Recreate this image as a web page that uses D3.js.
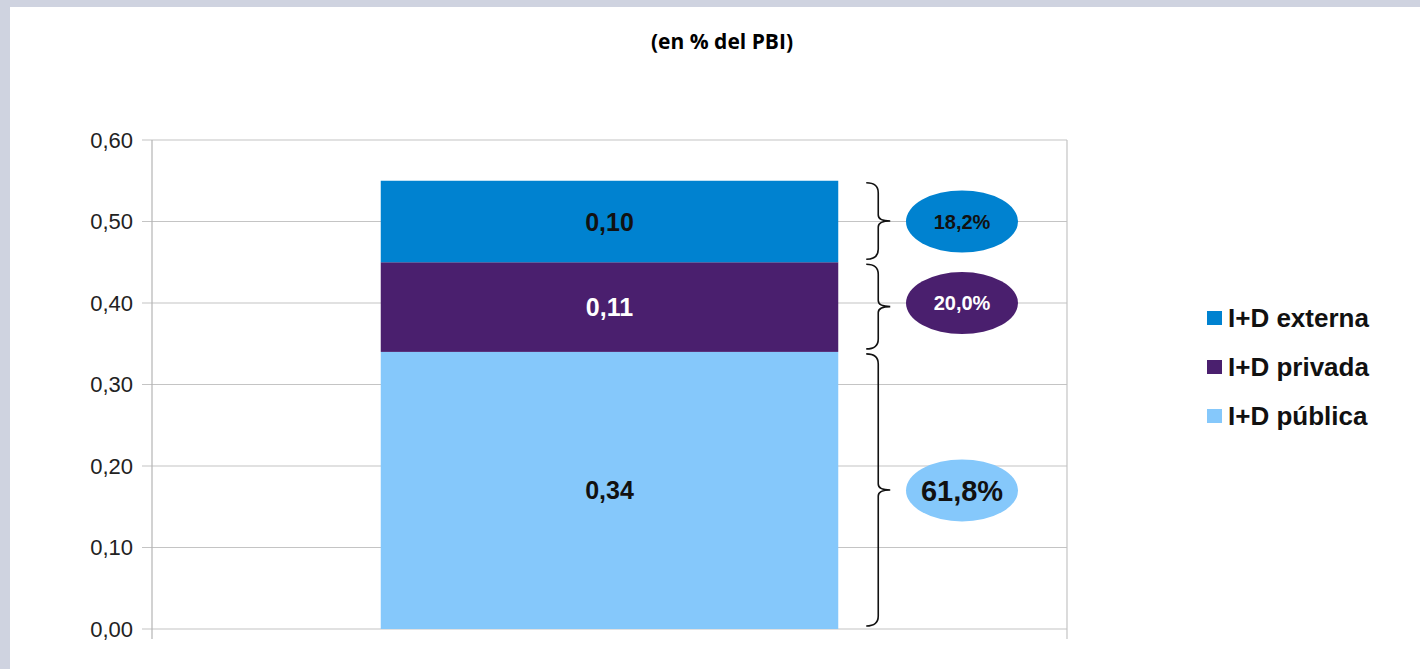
<!DOCTYPE html>
<html>
<head>
<meta charset="utf-8">
<script src="https://cdn.jsdelivr.net/npm/d3@7"></script>
<style>
  body { margin: 0; background: #cfd3e0; }
  svg { display: block; }
</style>
</head>
<body>
<svg id="chart" width="1420" height="669"></svg>
<script>
// data
const categories = ["I+D"];
const seriesNames = ["I+D pública", "I+D privada", "I+D externa"];
const seriesValues = [0.34, 0.11, 0.10];
const valueLabels = ["0,34", "0,11", "0,10"];
const shareLabels = ["61,8%", "20,0%", "18,2%"];
const yTicks = [0, 0.1, 0.2, 0.3, 0.4, 0.5, 0.6];

const colors = ["#85c8fb", "#4a1f6e", "#0082d0"];
const labelColors = ["#111", "#fff", "#111"];

const svg = d3.select("#chart");
const width = 1420, height = 669;
const margin = { left: 152, right: 353, top: 140, bottom: 39 };
const font = "Liberation Sans, Arial, sans-serif";

// white page panel
svg.append("rect").attr("x", 10).attr("y", 7).attr("width", width - 10).attr("height", height - 7).attr("fill", "#fff");

svg.append("text")
    .attr("x", 722).attr("y", 49)
    .attr("text-anchor", "middle")
    .attr("font-family", "Open Sans, sans-serif")
    .attr("font-size", 21).attr("font-weight", 700)
    .text("(en % del PBI)");

const x = d3.scaleBand()
    .domain(categories)
    .range([margin.left, width - margin.right])
    .paddingInner(0.5).paddingOuter(0.25);
const y = d3.scaleLinear()
    .domain([0, 0.6])
    .range([height - margin.bottom - 1, margin.top]);

// gridlines
svg.append("g").selectAll("line")
    .data(yTicks)
    .join("line")
    .attr("x1", margin.left - 10).attr("x2", width - margin.right)
    .attr("y1", d => y(d)).attr("y2", d => y(d))
    .attr("stroke", "#c4c4c4").attr("stroke-width", 1.2);

// axis lines
svg.append("line").attr("x1", margin.left).attr("x2", margin.left)
    .attr("y1", margin.top).attr("y2", y(0) + 10)
    .attr("stroke", "#b4b4b4").attr("stroke-width", 1.2);
svg.append("line").attr("x1", width - margin.right).attr("x2", width - margin.right)
    .attr("y1", margin.top).attr("y2", y(0) + 10)
    .attr("stroke", "#c4c4c4").attr("stroke-width", 1.2);

// tick labels
svg.append("g").selectAll("text")
    .data(yTicks)
    .join("text")
    .attr("x", margin.left - 19).attr("y", d => y(d))
    .attr("dy", "0.36em")
    .attr("text-anchor", "end")
    .attr("font-family", font)
    .attr("font-size", 22).attr("fill", "#222")
    .text(d => d.toFixed(2).replace(".", ","));

// stacked segments
const stacked = seriesValues.map((v, i) => {
    const y0 = d3.sum(seriesValues.slice(0, i));
    return { name: seriesNames[i], v, y0, y1: y0 + v, i };
});

svg.append("g").selectAll("rect")
    .data(stacked)
    .join("rect")
    .attr("x", x(categories[0]))
    .attr("width", x.bandwidth())
    .attr("y", d => y(d.y1))
    .attr("height", d => y(d.y0) - y(d.y1))
    .attr("fill", d => colors[d.i]);

svg.append("g").selectAll("text")
    .data(stacked)
    .join("text")
    .attr("x", x(categories[0]) + x.bandwidth() / 2)
    .attr("y", d => (y(d.y0) + y(d.y1)) / 2)
    .attr("dy", "0.36em")
    .attr("text-anchor", "middle")
    .attr("font-family", font)
    .attr("font-size", 25).attr("font-weight", 700)
    .attr("fill", d => labelColors[d.i])
    .text(d => valueLabels[d.i]);

// braces
function brace(x0, ya, yb, w) {
    const xm = x0 + w / 2, ym = (ya + yb) / 2, r = 10;
    return `M${x0},${ya} Q${xm},${ya} ${xm},${ya + r} L${xm},${ym - r + 4} ` +
        `Q${xm},${ym} ${x0 + w},${ym} Q${xm},${ym} ${xm},${ym + r - 4} ` +
        `L${xm},${yb - r} Q${xm},${yb} ${x0},${yb}`;
}
const braceX = x(categories[0]) + x.bandwidth() + 28;
svg.append("g").selectAll("path")
    .data(stacked)
    .join("path")
    .attr("d", d => brace(braceX, y(d.y1) + 2, y(d.y0) - 3, 24))
    .attr("fill", "none").attr("stroke", "#111").attr("stroke-width", 1.6);

// share ellipses
const ellX = 962;
const g = svg.append("g").selectAll("g")
    .data(stacked)
    .join("g")
    .attr("transform", d => `translate(${ellX},${(y(d.y0) + y(d.y1)) / 2 - (d.i === 1 ? 4 : 0)})`);
g.append("ellipse").attr("rx", 56).attr("ry", 31).attr("fill", d => colors[d.i]);
g.append("text")
    .attr("dy", "0.36em")
    .attr("text-anchor", "middle")
    .attr("font-family", font)
    .attr("font-weight", 700)
    .attr("font-size", d => d.i === 0 ? 29 : 20)
    .attr("fill", d => labelColors[d.i])
    .text(d => shareLabels[d.i]);

// legend (top to bottom: externa, privada, pública)
const legend = svg.append("g").selectAll("g")
    .data(stacked.slice().reverse())
    .join("g")
    .attr("transform", (d, k) => `translate(1207,${318 + k * 49})`);
legend.append("rect").attr("x", 0).attr("y", -7).attr("width", 15).attr("height", 14)
    .attr("fill", d => colors[d.i]);
legend.append("text")
    .attr("x", 21).attr("dy", "0.36em")
    .attr("font-family", font)
    .attr("font-size", 26).attr("font-weight", 700).attr("fill", "#111")
    .text(d => d.name);
</script>
</body>
</html>
